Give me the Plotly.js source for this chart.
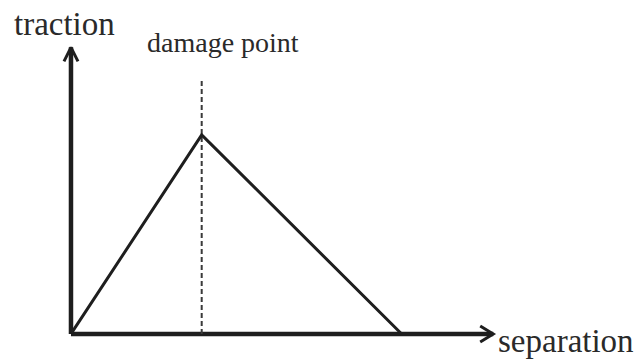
<!DOCTYPE html>
<html>
<head>
<meta charset="utf-8">
<script src="https://cdn.plot.ly/plotly-3.0.1.min.js"></script>
<style>
  html, body { margin: 0; padding: 0; background: #fff; }
  #chart { width: 637px; height: 363px; }
</style>
</head>
<body>
<div id="chart"></div>
<script>
// Bilinear traction-separation law (cohesive zone model)
const separation = [0, 1.0, 2.53];   // opening: origin, damage onset, full failure
const traction   = [0, 1.0, 0];      // traction: zero, peak, zero
const damageSep  = 1.0;              // separation at the damage point
const damageTop  = 1.28;             // top end of the damage-point guide
const axisEndX   = 3.23;             // length of the separation axis
const axisEndY   = 1.44;             // length of the traction axis

const W = 637, H = 363;
const xRange = [-0.543, 4.330];
const yRange = [-0.146, 1.678];
// pixel helpers for sizing the arrowheads
const pxX = (W) / (xRange[1] - xRange[0]);
const pxY = (H) / (yRange[1] - yRange[0]);
const dx = p => p / pxX;
const dy = p => p / pxY;

const ink = '#1e1e1e';
const serif = 'Liberation Serif, Times New Roman, serif';

const traces = [
  // separation axis
  { x: [0, axisEndX], y: [0, 0], mode: 'lines',
    line: { color: ink, width: 4.5 }, hoverinfo: 'skip' },
  { x: [axisEndX - dx(13), axisEndX, axisEndX - dx(13)], y: [dy(8), 0, -dy(8)], mode: 'lines',
    line: { color: ink, width: 3 }, hoverinfo: 'skip' },
  // traction axis
  { x: [0, 0], y: [0, axisEndY], mode: 'lines',
    line: { color: ink, width: 4.5 }, hoverinfo: 'skip' },
  { x: [-dx(7), 0, dx(7)], y: [axisEndY - dy(14), axisEndY, axisEndY - dy(14)], mode: 'lines',
    line: { color: ink, width: 3 }, hoverinfo: 'skip' },
  // damage point guide
  { x: [damageSep, damageSep], y: [0, damageTop], mode: 'lines',
    line: { color: '#3a3a3a', width: 2, dash: '5px,3px' }, hoverinfo: 'skip' },
  // traction-separation curve
  { x: separation, y: traction, mode: 'lines',
    line: { color: ink, width: 3 }, hoverinfo: 'skip' }
];

const px = v => v / W;
const py = v => 1 - v / H;

const layout = {
  width: W, height: H,
  margin: { l: 0, r: 0, t: 0, b: 0 },
  paper_bgcolor: '#fff', plot_bgcolor: '#fff',
  showlegend: false,
  xaxis: { range: xRange, visible: false, fixedrange: true },
  yaxis: { range: yRange, visible: false, fixedrange: true },
  annotations: [
    { text: 'traction', xref: 'paper', yref: 'paper', x: px(64), y: py(24),
      xanchor: 'center', yanchor: 'middle', showarrow: false,
      font: { family: serif, size: 33, color: '#2a2a2a' } },
    { text: 'damage point', xref: 'paper', yref: 'paper', x: px(222.5), y: py(42.5),
      xanchor: 'center', yanchor: 'middle', showarrow: false,
      font: { family: serif, size: 28, color: '#2a2a2a' } },
    { text: 'separation', xref: 'paper', yref: 'paper', x: px(565.5), y: py(341),
      xanchor: 'center', yanchor: 'middle', showarrow: false,
      font: { family: serif, size: 33, color: '#2a2a2a' } }
  ]
};

Plotly.newPlot('chart', traces, layout, { displayModeBar: false, staticPlot: true });
</script>
</body>
</html>
